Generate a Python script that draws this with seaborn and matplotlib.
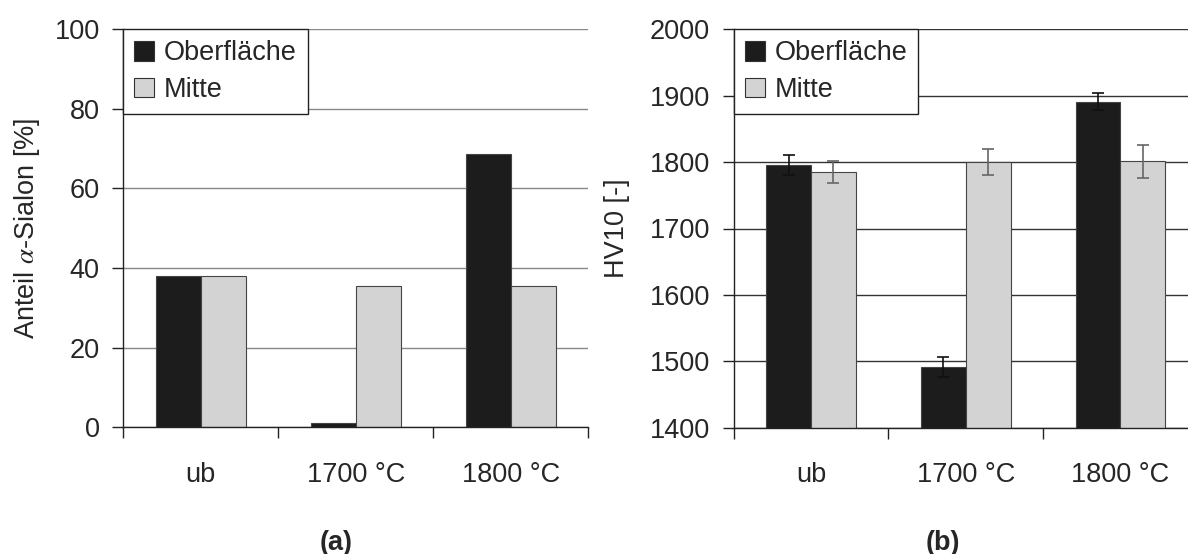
import numpy as np
import pandas as pd
import matplotlib
matplotlib.use('Agg')
import matplotlib.pyplot as plt
import seaborn as sns

# ==========================================
# Data
# ==========================================
categories = ['ub', '1700 °C', '1800 °C']
series = ['Oberfläche', 'Mitte']

# (a) Anteil alpha-Sialon [%]
sialon_ober = [38.0, 1.0, 68.6]
sialon_mitte = [38.0, 35.6, 35.5]

# (b) HV10 with error bars
hv_ober = [1795, 1492, 1891]
hv_mitte = [1785, 1800, 1801]
hv_ober_err = [15, 15, 13]
hv_mitte_err = [16, 19, 25]

colors = {'Oberfläche': '#1c1c1c', 'Mitte': '#d3d3d3'}

sns.set_style('white')
plt.rcParams['font.family'] = ['Liberation Sans', 'DejaVu Sans']
plt.rcParams['mathtext.fontset'] = 'stix'
FS = 19.5


def long_table(v_ober, v_mitte):
    return pd.DataFrame({
        'cat': categories * 2,
        'series': [series[0]] * 3 + [series[1]] * 3,
        'value': list(v_ober) + list(v_mitte),
    })


def style_axes(ax, grid_color):
    ax.set_xlim(-0.5, 2.5)
    sns.despine(ax=ax, top=True, right=True)
    for s in ['left', 'bottom']:
        ax.spines[s].set_color('#222222')
        ax.spines[s].set_linewidth(1.0)
    ax.yaxis.grid(True, color=grid_color, lw=1.0)
    ax.set_axisbelow(True)
    # ticks at category boundaries, labels at centers
    ax.set_xticks([-0.5, 0.5, 1.5, 2.5])
    ax.set_xticklabels([])
    ax.set_xticks([0, 1, 2], minor=True)
    ax.set_xticklabels(categories, minor=True, fontsize=FS)
    ax.tick_params(axis='x', which='major', length=8, width=1, color='#222222',
                   direction='out', bottom=True)
    ax.tick_params(axis='x', which='minor', length=0, pad=25)
    ax.tick_params(axis='y', length=8, width=1, color='#222222', direction='out',
                   left=True, labelsize=FS, pad=9)
    ax.set_xlabel('')
    leg = ax.legend(loc='upper left', bbox_to_anchor=(0, 1), borderaxespad=0,
                    fontsize=FS, fancybox=False, framealpha=1, edgecolor='#222222',
                    handlelength=0.75, handleheight=0.75, handletextpad=0.35,
                    labelspacing=0.4, borderpad=0.4)
    leg.get_frame().set_linewidth(1.0)
    leg.set_zorder(5)
    for h in leg.legend_handles:
        h.set_edgecolor('#333333')
        h.set_linewidth(0.8)


W, H = 1188, 554
fig = plt.figure(figsize=(W / 100, H / 100), dpi=100)
ax1 = fig.add_axes([123.3 / W, 1 - 427.3 / H, 465 / W, 398 / H])
ax2 = fig.add_axes([733.7 / W, 1 - 427.7 / H, 464 / W, 398.4 / H])

# ---- (a) ----
df_a = long_table(sialon_ober, sialon_mitte)
sns.barplot(data=df_a, x='cat', y='value', hue='series', palette=colors,
            width=0.58, gap=0, edgecolor='#444444', linewidth=0.8,
            errorbar=None, ax=ax1, zorder=2)
ax1.set_ylim(0, 100)
ax1.set_yticks([0, 20, 40, 60, 80, 100])
ax1.set_ylabel(r'Anteil $\alpha$-Sialon [%]', fontsize=FS, labelpad=9)
style_axes(ax1, '#888888')

# ---- (b) ----
df_b = long_table(hv_ober, hv_mitte)
sns.barplot(data=df_b, x='cat', y='value', hue='series', palette=colors,
            width=0.58, gap=0, edgecolor='#444444', linewidth=0.8,
            errorbar=None, ax=ax2, zorder=2)
ax2.set_ylim(1400, 2000)
ax2.set_yticks(np.arange(1400, 2001, 100))
ax2.set_ylabel('HV10 [-]', fontsize=FS, labelpad=14)

# error bars placed on the centers of the bars seaborn drew
for cont, vals, errs, ecol in zip(ax2.containers, [hv_ober, hv_mitte],
                                  [hv_ober_err, hv_mitte_err], ['#111111', '#666666']):
    xs = [p.get_x() + p.get_width() / 2 for p in cont.patches]
    ax2.errorbar(xs, vals, yerr=errs, fmt='none', ecolor=ecol, elinewidth=1.2,
                 capsize=4, capthick=1.2, zorder=3)
style_axes(ax2, '#333333')

fig.text(336 / W, 1 - 543 / H, '(a)', ha='center', va='center', fontsize=FS,
         fontweight='bold')
fig.text(943 / W, 1 - 543 / H, '(b)', ha='center', va='center', fontsize=FS,
         fontweight='bold')

fig.savefig('out.png', dpi=100, facecolor='white')
